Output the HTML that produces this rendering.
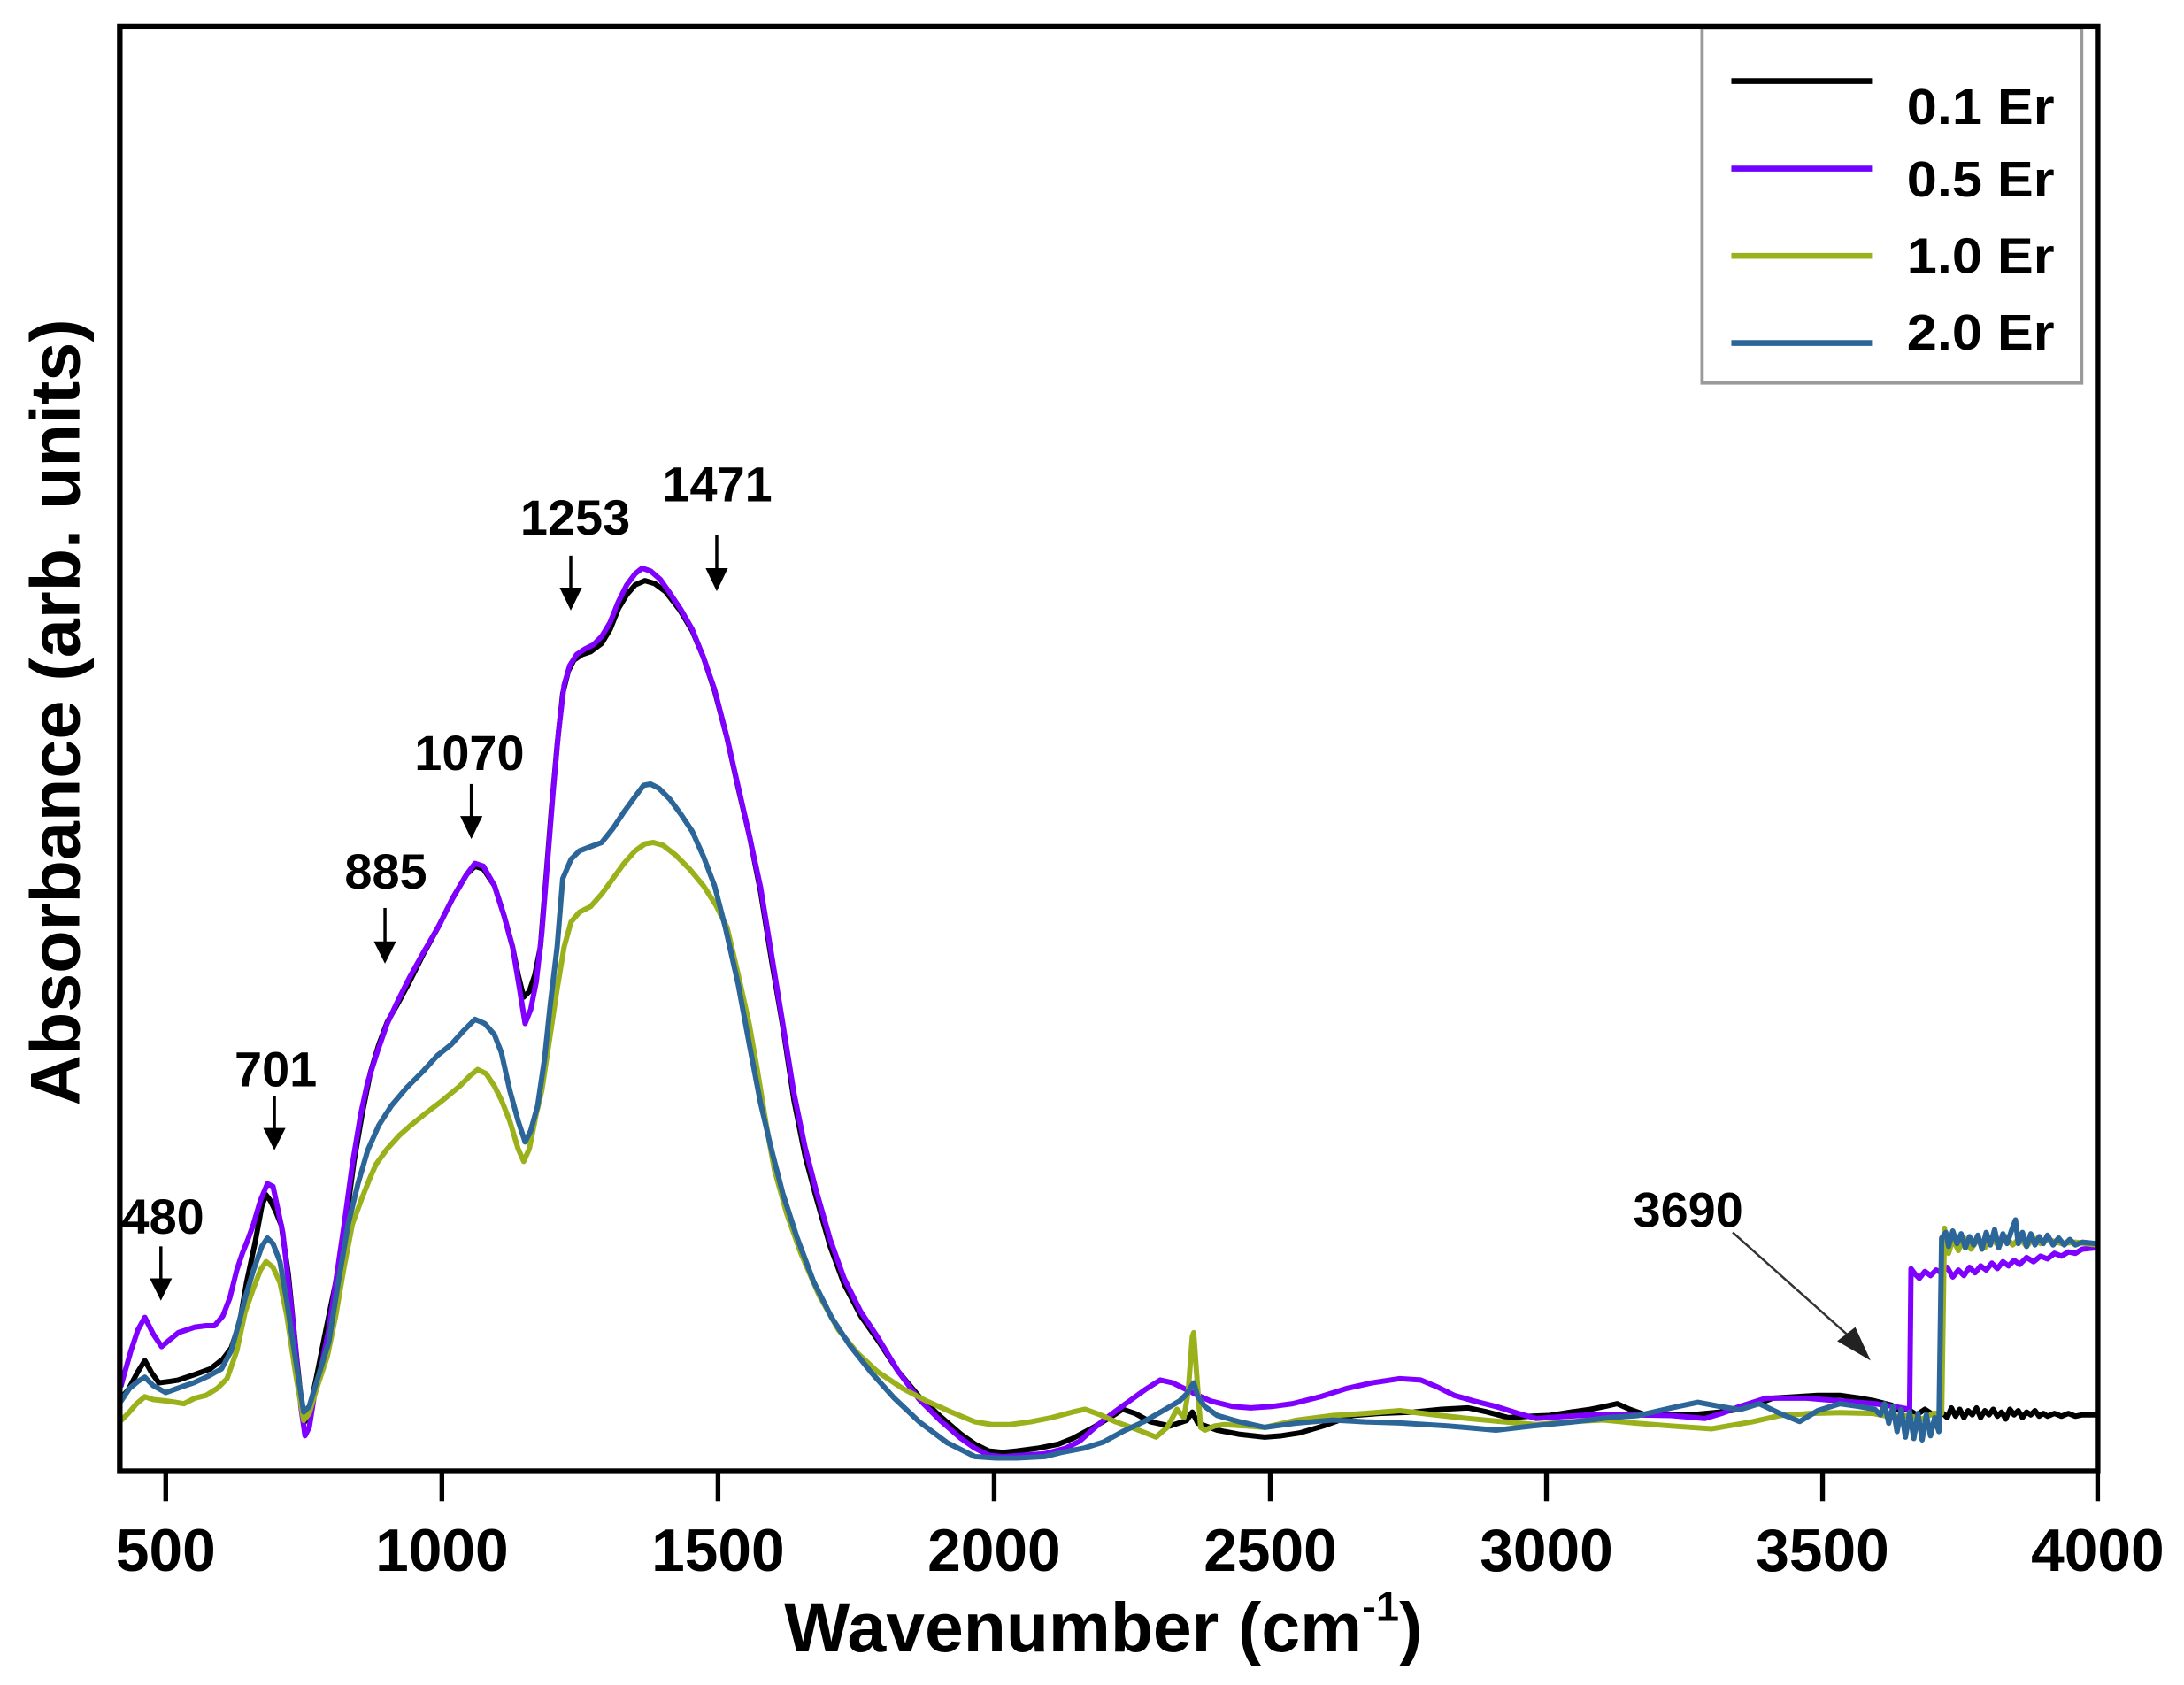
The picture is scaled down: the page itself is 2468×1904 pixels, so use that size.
<!DOCTYPE html>
<html>
<head>
<meta charset="utf-8">
<style>
html,body{margin:0;padding:0;background:#fff;}
svg{display:block;}
text{font-family:"Liberation Sans",Arial,sans-serif;font-weight:bold;fill:#000;}
</style>
</head>
<body>
<svg width="2468" height="1904" viewBox="0 0 1568 1210" preserveAspectRatio="none" xmlns="http://www.w3.org/2000/svg">
<rect x="0" y="0" width="1568" height="1210" fill="#fff"/>

<g fill="none" stroke-width="3.8" stroke-linejoin="round" stroke-linecap="round">
<!-- 0.1 Er black -->
<polyline stroke="#000" points="87,1004 92,998 99,985 104,977 109,986 114,993 122,992 128,991 140,987 151,983 160,976 166,968 172,950 177,921 183,893 188,866 191,858 194,862 198,870 202,880 207,915 213,975 218,1022 221,1018 227,990 234,955 241,921 248,880 254,835 260,800 266,770 272,750 278,734 286,720 294,705 304,685 315,665 325,645 335,628 341,622 347,624 355,636 362,658 368,680 372,700 376,716 380,712 384,700 388,680 392,630 396,580 400,535 404,498 408,482 412,474 418,470 424,468 432,462 438,452 444,437 450,427 456,420 463,417 470,419 478,425 488,438 497,453 505,472 513,496 522,530 530,566 538,600 546,640 554,690 562,737 570,790 578,830 586,860 596,895 606,922 618,945 630,962 645,985 660,1003 675,1017 690,1030 700,1037 710,1042 720,1043 730,1042 745,1040 760,1037 770,1033 785,1025 800,1016 806,1012 815,1015 826,1021 840,1024 852,1020 856,1014 860,1022 874,1027 890,1030 908,1032 920,1031 933,1029 950,1024 971,1016.5 990,1015 1015,1014 1035,1012 1054,1011 1068,1014 1083,1018 1098,1017 1112,1016.5 1128,1014 1142,1012 1152,1010 1161,1008 1170,1012 1180,1015.5 1200,1016 1219,1015.5 1235,1014 1249,1012 1262,1008 1273,1004 1290,1003 1305,1002 1321,1002 1335,1004 1346,1006 1358,1009 1364,1013 1370,1012 1376,1016 1382,1012 1388,1016 1394,1014 1398,1018 1401,1011 1404,1017 1407,1012 1410,1018 1413,1013 1416,1016 1419,1011 1422,1018 1425,1013 1428,1016 1431,1012 1434,1017 1437,1014 1440,1019 1443,1012 1446,1016 1449,1013 1452,1018 1455,1014 1458,1016 1461,1013 1464,1017 1467,1015 1470,1017 1475,1015 1480,1017 1485,1015 1490,1017 1495,1016 1505,1016"/>
<!-- 0.5 Er purple -->
<polyline stroke="#8000ff" points="87,995 88,991 94,970 99,955 104,946 110,958 116,967 122,962 128,957 134,955 140,953 148,952 154,952 160,945 165,932 170,912 174,900 178,890 182,879 187,862 192,850 196,852 199,866 203,885 207,920 212,965 216,1010 219,1031 222,1025 226,1000 230,985 236,955 241,921 247,880 253,836 259,800 264,777 271,755 278,735 286,718 294,702 304,684 315,665 325,645 335,628 341,620 347,622 355,636 362,658 368,680 373,710 377,735 381,725 385,705 389,670 393,620 397,570 401,525 405,492 409,478 414,470 420,466 426,463 432,457 438,447 444,432 450,420 456,412 461,408 467,410 474,416 481,426 489,438 497,452 505,472 513,495 522,530 530,565 538,600 546,637 554,686 562,735 570,785 578,824 586,855 596,890 606,918 618,942 630,960 645,985 660,1005 675,1020 690,1033 700,1040 710,1045 720,1046 735,1045 750,1044 765,1040 775,1035 784,1027 792,1020 800,1014 811,1006 822,998 833,991 842,993 850,997 860,1002 869,1006 885,1010 898,1011 913,1010 928,1008 948,1003 967,997 985,993 1005,990 1020,991 1032,996 1044,1002 1058,1006 1074,1010 1090,1015 1103,1018.6 1125,1017 1151,1015.5 1175,1016 1200,1016.5 1224,1018.6 1236,1015 1249,1010 1268,1004 1297,1004 1321,1006 1346,1008 1360,1010 1371,1012 1372,911 1375,915 1378,918 1382,913 1386,916 1390,912 1394,914 1398,910 1402,917 1406,912 1410,916 1414,910 1418,914 1422,909 1426,912 1430,907 1434,911 1438,906 1442,909 1446,905 1450,908 1455,903 1460,906 1465,902 1470,904 1475,900 1480,902 1485,899 1490,900 1495,897 1505,896"/>
<!-- 1.0 Er green -->
<polyline stroke="#9bb11c" points="87,1020 92,1015 98,1008 104,1003 110,1005 119,1006 126,1007 132,1008 140,1004 148,1002 156,997 163,990 170,970 176,942 182,925 187,912 191,906 196,910 201,921 206,945 212,985 218,1020 222,1015 228,995 235,974 241,945 247,910 253,879 260,860 266,845 270,836 278,825 287,815 295,808 305,800 318,790 330,780 338,772 343,768 349,771 355,780 360,790 366,805 372,825 376,834 380,825 385,800 389,783 394,750 400,710 405,680 410,662 416,655 424,651 432,642 440,631 448,620 456,611 463,606 469,605 476,607 485,614 495,624 505,636 514,650 522,666 530,700 538,736 544,770 550,807 556,840 565,872 575,900 588,930 602,955 616,972 630,985 648,997 665,1006 683,1014 700,1021 712,1023 725,1023 740,1021 755,1018 770,1014 779,1012 790,1016 801,1021 815,1026 830,1032 838,1025 845,1012 850,1018 853,1000 856,960 857,957 859,985 862,1025 865,1027 872,1024 879,1023 895,1024 908,1025 930,1020 957,1016.5 980,1015 1005,1013 1030,1016 1054,1018.6 1080,1021 1103,1023 1125,1021 1151,1019.7 1175,1022 1200,1024 1229,1026 1258,1021 1278,1016.5 1300,1015 1321,1014.4 1345,1015 1360,1018 1370,1016.5 1380,1019 1388,1015 1394,1015 1396,882 1399,900 1402,890 1406,898 1410,889 1415,897 1420,890 1425,896 1430,889 1435,895 1440,888 1445,894 1450,889 1455,895 1460,889 1465,893 1470,890 1480,893 1490,892 1505,894"/>
<!-- 2.0 Er blue -->
<polyline stroke="#2c6698" points="87,1006 93,997 99,992 104,989 110,995 119,1000 130,996 139,993 150,988 159,983 166,970 172,948 176,932 182,912 188,895 192,889 196,893 201,906 206,935 212,975 218,1014 222,1010 228,990 236,964 243,920 250,879 257,850 264,826 272,808 281,794 292,781 304,769 314,758 324,750 333,740 341,732 348,735 355,743 360,756 366,783 372,805 377,820 381,812 386,794 391,760 395,722 400,680 404,631 410,617 416,611 424,608 432,605 440,595 448,583 456,572 462,564 467,563 473,566 481,574 489,585 497,597 505,615 513,636 521,667 530,707 538,750 546,792 554,826 562,857 572,888 584,920 597,946 610,966 625,985 642,1004 660,1021 680,1036 700,1046 715,1047 730,1047 750,1046 762,1043 778,1040 792,1035.6 806,1028 821,1021 835,1013 847,1006 852,1001 855,996 857,993 860,1003 865,1010 874,1016.5 890,1021 908,1025 930,1022 957,1019.7 980,1021 1005,1021.8 1040,1024 1074,1027 1100,1024 1132,1020.8 1155,1018 1176,1016.5 1200,1011 1219,1007 1235,1010 1249,1012.3 1263,1008 1278,1015 1292,1020.8 1305,1013 1321,1008 1335,1010 1346,1012 1350,1016 1353,1008 1356,1022 1359,1010 1362,1028 1365,1012 1368,1032 1371,1014 1374,1033 1377,1015 1380,1034 1383,1016 1386,1031 1389,1018 1392,1028 1394,889 1397,885 1399,895 1402,884 1405,893 1408,886 1411,896 1414,888 1417,894 1420,887 1423,897 1426,885 1429,894 1432,883 1435,896 1438,886 1441,893 1444,884 1447,876 1449,893 1452,885 1455,895 1458,886 1461,894 1464,888 1467,893 1470,887 1474,894 1478,889 1482,894 1486,890 1490,894 1495,892 1505,893"/>
</g>

<!-- Annotations -->
<g font-size="35.5" text-anchor="middle">
<text x="117" y="886">480</text>
<text x="198" y="780">701</text>
<text x="277" y="638">885</text>
<text x="337" y="553">1070</text>
<text x="413" y="384">1253</text>
<text x="515" y="360">1471</text>
<text x="1212" y="881">3690</text>
</g>
<g stroke="#000" stroke-width="2.2">
<line x1="115.5" y1="895" x2="115.5" y2="922"/>
<line x1="197" y1="787" x2="197" y2="814"/>
<line x1="276.4" y1="652" x2="276.4" y2="680"/>
<line x1="338.4" y1="563" x2="338.4" y2="590"/>
<line x1="409.8" y1="399" x2="409.8" y2="426"/>
<line x1="514.6" y1="384" x2="514.6" y2="412"/>
</g>
<g fill="#000">
<polygon points="107.5,918 123.5,918 115.5,934"/>
<polygon points="189,810 205,810 197,826"/>
<polygon points="268.4,676 284.4,676 276.4,692"/>
<polygon points="330.4,586 346.4,586 338.4,602.5"/>
<polygon points="401.8,422 417.8,422 409.8,438.4"/>
<polygon points="506.6,408 522.6,408 514.6,424.6"/>
</g>
<line x1="1244" y1="885" x2="1328" y2="960" stroke="#333" stroke-width="1.6"/>
<polygon points="1343,977 1319,963 1332,953" fill="#222"/>

<!-- Legend -->
<rect x="1222" y="20" width="272.5" height="255" fill="#fff" stroke="#9a9a9a" stroke-width="2.4"/>
<g stroke-width="4.2">
<line x1="1243" y1="58.2" x2="1344" y2="58.2" stroke="#000"/>
<line x1="1243" y1="121.1" x2="1344" y2="121.1" stroke="#7000ff"/>
<line x1="1243" y1="183.8" x2="1344" y2="183.8" stroke="#9bb11c"/>
<line x1="1243" y1="246.3" x2="1344" y2="246.3" stroke="#2c6698"/>
</g>
<g font-size="36">
<text x="1369" y="89" textLength="106" lengthAdjust="spacingAndGlyphs">0.1 Er</text>
<text x="1369" y="141" textLength="106" lengthAdjust="spacingAndGlyphs">0.5 Er</text>
<text x="1369" y="196" textLength="106" lengthAdjust="spacingAndGlyphs">1.0 Er</text>
<text x="1369" y="251" textLength="106" lengthAdjust="spacingAndGlyphs">2.0 Er</text>
</g>

<!-- Axes frame -->
<rect x="86" y="19" width="1420" height="1037.5" fill="none" stroke="#000" stroke-width="4"/>
<g stroke="#000" stroke-width="3.4">
<line x1="119" y1="1056" x2="119" y2="1078"/>
<line x1="317.25" y1="1056" x2="317.25" y2="1078"/>
<line x1="515.5" y1="1056" x2="515.5" y2="1078"/>
<line x1="713.75" y1="1056" x2="713.75" y2="1078"/>
<line x1="912" y1="1056" x2="912" y2="1078"/>
<line x1="1110.25" y1="1056" x2="1110.25" y2="1078"/>
<line x1="1308.5" y1="1056" x2="1308.5" y2="1078"/>
<line x1="1506" y1="1056" x2="1506" y2="1078"/>
</g>
<g font-size="43" text-anchor="middle">
<text x="119" y="1128">500</text>
<text x="317.25" y="1128">1000</text>
<text x="515.5" y="1128">1500</text>
<text x="713.75" y="1128">2000</text>
<text x="912" y="1128">2500</text>
<text x="1110.25" y="1128">3000</text>
<text x="1308.5" y="1128">3500</text>
<text x="1506" y="1128">4000</text>
</g>

<!-- Axis labels -->
<text x="563" y="1186" font-size="50">Wavenumber (cm<tspan font-size="30" dy="-22">-1</tspan><tspan dy="22">)</tspan></text>
<text transform="translate(57,511.5) rotate(-90)" x="0" y="0" font-size="50" text-anchor="middle" textLength="565" lengthAdjust="spacingAndGlyphs">Absorbance (arb. units)</text>
</svg>
</body>
</html>
